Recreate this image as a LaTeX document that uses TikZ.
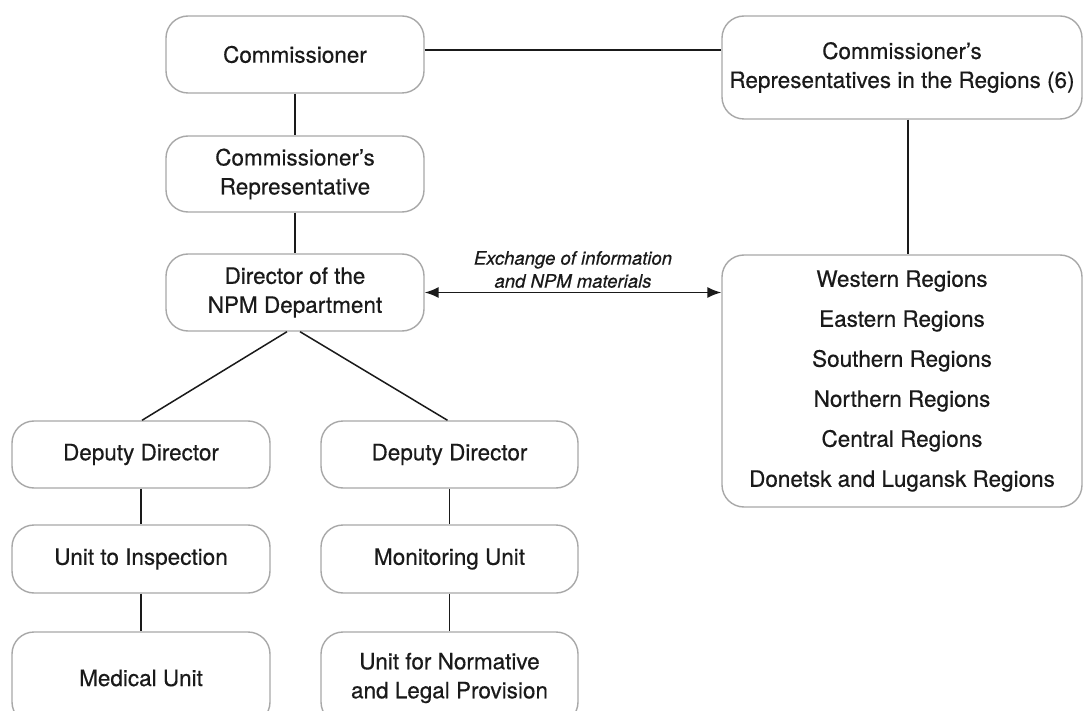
\documentclass[tikz,border=0pt]{standalone}
\usepackage{fontspec}
\setmainfont{TeX Gyre Heros}[FakeBold=0.45]
\usetikzlibrary{arrows.meta}
\definecolor{boxgray}{HTML}{A8A8A8}
\definecolor{txt}{HTML}{1A1A1A}
\begin{document}
\begin{tikzpicture}[x=1pt,y=-1pt,
  box/.style={draw=boxgray, line width=1.4pt, rounded corners=22pt, fill=white,
    text=txt, align=center, inner sep=0pt, font=\fontsize{22.5}{29}\selectfont},
  conn/.style={draw=txt, line width=1.5pt},
  lbl/.style={text=txt, align=center, inner sep=0pt, font=\fontsize{18.5}{23}\selectfont\itshape}
]
\clip (0,0) rectangle (1084,711);
\fill[white] (0,0) rectangle (1084,711);

\node[box, minimum width=258pt, minimum height=77pt] (comm) at (295,54.5) {Commissioner};
\node[box, minimum width=258pt, minimum height=76pt] (rep) at (295,174) {Commissioner’s\\Representative};
\node[box, minimum width=258pt, minimum height=77pt] (dir) at (295,292.5) {Director of the\\NPM Department};
\node[box, minimum width=360pt, minimum height=103pt] (crr) at (902,67.5) {Commissioner’s\\Representatives in the Regions (6)};
\node[box, minimum width=360pt, minimum height=252pt, font=\fontsize{22.5}{40}\selectfont] (reg) at (902,381)
  {Western Regions\\Eastern Regions\\Southern Regions\\Northern Regions\\Central Regions\\Donetsk and Lugansk Regions};

\node[box, minimum width=258pt, minimum height=67pt] (dd1) at (141,454.5) {Deputy Director};
\node[box, minimum width=257pt, minimum height=67pt] (dd2) at (449.5,454.5) {Deputy Director};
\node[box, minimum width=258pt, minimum height=68pt] (ui) at (141,559) {Unit to Inspection};
\node[box, minimum width=257pt, minimum height=68pt] (mon) at (449.5,559) {Monitoring Unit};
\node[box, minimum width=258pt, minimum height=92pt] (mu) at (141,678) {Medical Unit};
\node[box, minimum width=257pt, minimum height=92pt] (unl) at (449.5,678) {Unit for Normative\\and Legal Provision};

\draw[conn] ([yshift=4.5pt]comm.east) -- ([yshift=4.5pt]comm.east -| crr.west);
\draw[conn] (comm.south) -- (rep.north);
\draw[conn] (rep.south) -- (dir.north);
\draw[conn] ([xshift=6pt]crr.south) -- ([xshift=6pt]crr.south |- reg.north);
\draw[conn, {Latex[length=14pt,width=11pt]}-{Latex[length=14pt,width=11pt]}] (dir.east) -- (dir.east -| reg.west);
\node[lbl] (xlbl) at (573,269.5) {Exchange of information\\and NPM materials};
\draw[conn] ([xshift=-8pt]dir.south) -- ([xshift=1pt]dd1.north);
\draw[conn] ([xshift=5pt]dir.south) -- ([xshift=-2pt]dd2.north);
\draw[conn] (dd1.south) -- (ui.north);
\draw[conn] (ui.south) -- (mu.north);
\draw[conn] (dd2.south) -- (mon.north);
\draw[conn] (mon.south) -- (unl.north);
\end{tikzpicture}
\end{document}
